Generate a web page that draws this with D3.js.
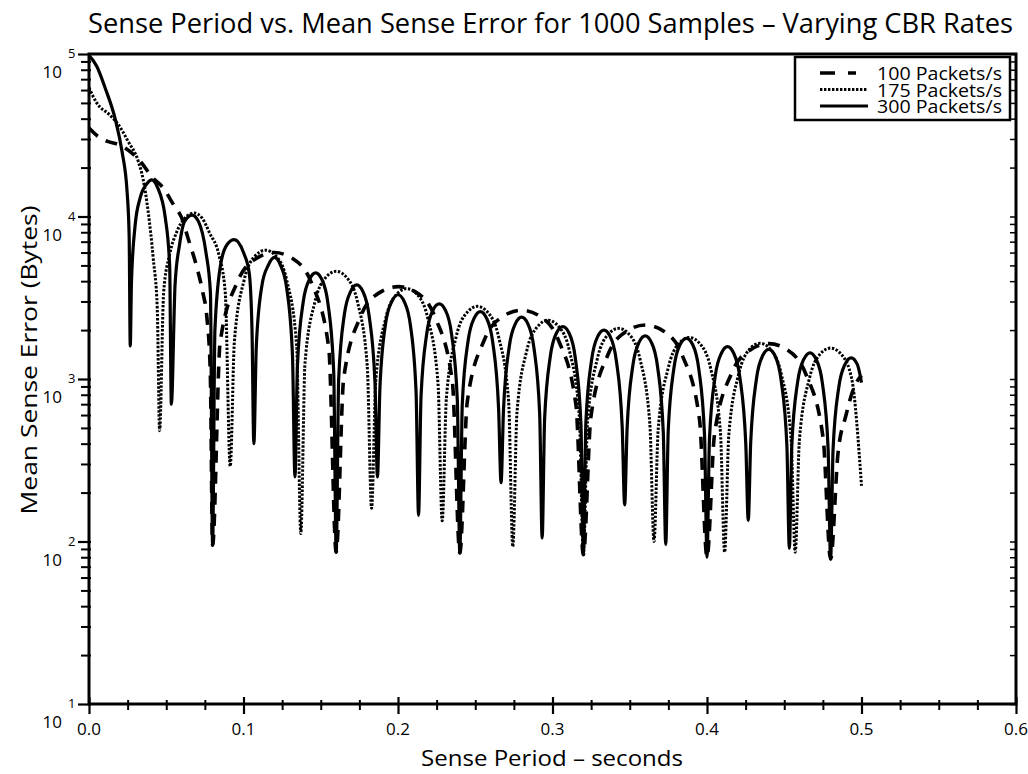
<!DOCTYPE html>
<html>
<head>
<meta charset="utf-8">
<script src="https://cdn.jsdelivr.net/npm/d3@7"></script>
<style>
  body { margin: 0; background: #fff; }
  text { font-family: "Open Sans", sans-serif; fill: #000; }
</style>
</head>
<body>
<svg id="chart" width="1028" height="774"></svg>
<script>
/*
 * Chart data
 */
var TITLE = 'Sense Period vs. Mean Sense Error for 1000 Samples \u2013 Varying CBR Rates',
    X_LABEL = 'Sense Period \u2013 seconds',
    Y_LABEL = 'Mean Sense Error (Bytes)';

var X_MAJOR = [0, 0.1, 0.2, 0.3, 0.4, 0.5, 0.6],
    X_LABELS = ['0.0', '0.1', '0.2', '0.3', '0.4', '0.5', '0.6'],
    Y_DECADES = [1, 2, 3, 4, 5],
    LEGEND_LABELS = ['100 Packets/s', '175 Packets/s', '300 Packets/s'];

// 100 packets/s (dashed)
var cbr100 = [
    [0, 35000], [0.006, 31000], [0.012, 29000], [0.02, 27500], [0.029, 24000], [0.033, 22000],
    [0.041, 17400], [0.048, 15000], [0.055, 11700], [0.06, 9800], [0.064, 7400], [0.0705, 4600],
    [0.0737, 3400], [0.0763, 2400], [0.0785, 1100], [0.08, 95],
    [0.0848, 1650], [0.096, 3950], [0.108, 5500], [0.12, 6000], [0.132, 5500], [0.144, 3900], [0.1552, 1550], [0.16, 86],
    [0.1648, 1000], [0.176, 2450], [0.188, 3400], [0.2, 3700], [0.212, 3400], [0.224, 2400], [0.2352, 960], [0.24, 85],
    [0.2448, 720], [0.256, 1750], [0.268, 2430], [0.28, 2650], [0.292, 2430], [0.304, 1720], [0.3152, 690], [0.32, 83],
    [0.3248, 580], [0.336, 1420], [0.348, 1970], [0.36, 2150], [0.372, 1970], [0.384, 1400], [0.3952, 560], [0.40, 80],
    [0.4048, 450], [0.416, 1090], [0.428, 1510], [0.44, 1650], [0.452, 1510], [0.464, 1070], [0.4752, 430], [0.48, 78],
    [0.4848, 350], [0.49, 600], [0.495, 880], [0.5, 1050]
];

// 175 packets/s (dotted)
var cbr175 = [
    [0, 62000], [0.005, 50000], [0.0136, 42000], [0.0188, 37000], [0.0253, 29000], [0.0318, 22000],
    [0.035, 17000], [0.0383, 10700], [0.0416, 5500], [0.0442, 2700], [0.0457, 480],
    [0.0483, 3400], [0.0521, 5800], [0.0567, 8000], [0.0622, 9800], [0.0681, 10500], [0.0731, 9800],
    [0.0781, 7900], [0.0841, 5800], [0.0882, 3400], [0.0914, 290],
    [0.0941, 1700], [0.1005, 4100], [0.1074, 5700], [0.1143, 6200], [0.1211, 5700], [0.128, 4050], [0.1344, 1600], [0.1371, 112],
    [0.1398, 1250], [0.1463, 3000], [0.1531, 4200], [0.16, 4600], [0.1669, 4200], [0.1737, 3000], [0.1801, 1200], [0.1829, 160],
    [0.1856, 970], [0.192, 2350], [0.1989, 3300], [0.2057, 3600], [0.2126, 3300], [0.2194, 2340], [0.2259, 940], [0.2286, 134],
    [0.2313, 760], [0.2377, 1830], [0.2446, 2560], [0.2514, 2800], [0.2583, 2560], [0.2651, 1820], [0.2716, 730], [0.2743, 93],
    [0.277, 620], [0.2834, 1500], [0.2903, 2100], [0.2971, 2300], [0.304, 2100], [0.3109, 1500], [0.3173, 600], [0.32, 85],
    [0.3227, 550], [0.3291, 1340], [0.336, 1880], [0.3429, 2050], [0.3497, 1880], [0.3566, 1330], [0.363, 530], [0.3657, 100],
    [0.3684, 490], [0.3749, 1170], [0.3817, 1650], [0.3886, 1800], [0.3954, 1650], [0.4023, 1170], [0.4087, 470], [0.4114, 86],
    [0.4141, 450], [0.4206, 1080], [0.4274, 1520], [0.4343, 1660], [0.4411, 1520], [0.448, 1080], [0.4544, 430], [0.4571, 86],
    [0.4598, 420], [0.4663, 1010], [0.4731, 1420], [0.48, 1550], [0.4869, 1420], [0.4937, 1000], [0.5, 220]
];

// 300 packets/s (solid)
var cbr300 = [
    [0, 98000], [0.005, 84000], [0.0104, 62000], [0.0169, 40000], [0.0214, 25000], [0.0247, 14000], [0.026, 7500], [0.0267, 1600],
    [0.0275, 4000], [0.0299, 8900], [0.0331, 13000], [0.0377, 16000], [0.0405, 16800], [0.0445, 15000], [0.0494, 9800], [0.0522, 5000], [0.0533, 700],
    [0.0557, 3800], [0.0586, 6700], [0.0618, 9300], [0.0667, 10200], [0.0709, 9300], [0.0757, 6000], [0.0786, 3400], [0.08, 95],
    [0.0815, 2000], [0.0851, 5000], [0.0893, 6700], [0.094, 7200], [0.1, 6000], [0.1037, 4500], [0.1055, 2000], [0.1067, 400],
    [0.1083, 1600], [0.112, 3800], [0.116, 5000], [0.12, 5600], [0.124, 5000], [0.128, 3600], [0.1317, 1400], [0.1333, 250],
    [0.1349, 1200], [0.1387, 3000], [0.1427, 4100], [0.1467, 4500], [0.1507, 4100], [0.1547, 2900], [0.1584, 1100], [0.16, 86],
    [0.1616, 1000], [0.1653, 2500], [0.1693, 3450], [0.1733, 3800], [0.1773, 3450], [0.1813, 2450], [0.1851, 950], [0.1867, 250],
    [0.1883, 880], [0.192, 2200], [0.196, 3000], [0.2, 3300], [0.204, 3000], [0.208, 2150], [0.2117, 830], [0.2133, 145],
    [0.2149, 780], [0.2186, 1900], [0.2226, 2650], [0.2267, 2900], [0.2307, 2650], [0.2347, 1880], [0.2384, 740], [0.24, 85],
    [0.2416, 700], [0.2453, 1700], [0.2493, 2370], [0.2533, 2600], [0.2573, 2370], [0.2613, 1690], [0.2651, 660], [0.2667, 230],
    [0.2683, 650], [0.272, 1580], [0.276, 2190], [0.28, 2400], [0.284, 2190], [0.288, 1550], [0.2917, 610], [0.2933, 105],
    [0.2949, 570], [0.2986, 1380], [0.3026, 1920], [0.3067, 2100], [0.3107, 1920], [0.3147, 1360], [0.3184, 530], [0.32, 85],
    [0.3216, 540], [0.3253, 1310], [0.3293, 1830], [0.3333, 2000], [0.3373, 1830], [0.3413, 1300], [0.3451, 510], [0.3467, 168],
    [0.3483, 500], [0.352, 1210], [0.356, 1680], [0.36, 1840], [0.364, 1680], [0.368, 1190], [0.3717, 470], [0.3733, 96],
    [0.3749, 480], [0.3786, 1170], [0.3826, 1630], [0.3867, 1780], [0.3907, 1630], [0.3947, 1150], [0.3984, 450], [0.40, 80],
    [0.4016, 430], [0.4053, 1040], [0.4093, 1440], [0.4133, 1580], [0.4173, 1440], [0.4213, 1020], [0.4251, 400], [0.4267, 135],
    [0.4283, 410], [0.432, 1000], [0.436, 1390], [0.44, 1520], [0.444, 1390], [0.448, 980], [0.4517, 390], [0.4533, 91],
    [0.4549, 390], [0.4586, 950], [0.4626, 1320], [0.4667, 1450], [0.4707, 1320], [0.4747, 940], [0.4784, 370], [0.48, 78],
    [0.4816, 370], [0.4853, 890], [0.4893, 1230], [0.4933, 1350], [0.4973, 1230], [0.5, 950]
];

/*
 * Layout
 */
var LEFT = 89, RIGHT = 1016, TOP = 54, BOTTOM = 704;

var svg = d3.select('#chart');

var x = d3.scaleLinear().domain([0, 0.6]).range([LEFT, RIGHT]);
var y = d3.scaleLog().domain([10, 1e5]).range([BOTTOM, TOP]);

// title
svg.append('text')
    .attr('x', 88).attr('y', 33)
    .attr('font-size', 27)
    .attr('textLength', 925).attr('lengthAdjust', 'spacingAndGlyphs')
    .text(TITLE);

// axis titles
svg.append('text')
    .attr('x', 552).attr('y', 766)
    .attr('text-anchor', 'middle')
    .attr('font-size', 22)
    .attr('textLength', 262).attr('lengthAdjust', 'spacingAndGlyphs')
    .text(X_LABEL);

svg.append('text')
    .attr('transform', 'translate(37,360) rotate(-90)')
    .attr('text-anchor', 'middle')
    .attr('font-size', 22)
    .attr('textLength', 309).attr('lengthAdjust', 'spacingAndGlyphs')
    .text(Y_LABEL);

/*
 * Ticks
 */
var xMinor = d3.range(0, 25).map(function (i) { return i * 0.025; })
    .filter(function (v) { return Math.abs(v * 10 - Math.round(v * 10)) > 1e-6; });

svg.append('g')
    .attr('transform', 'translate(0,' + (BOTTOM - 4) + ')')
    .call(d3.axisBottom(x).tickValues(xMinor).tickSize(10).tickFormat(''))
    .call(function (g) { g.select('.domain').remove(); })
    .selectAll('line').attr('stroke-width', 2);

svg.append('g')
    .attr('transform', 'translate(0,' + (BOTTOM - 7) + ')')
    .call(d3.axisBottom(x).tickValues(X_MAJOR).tickSize(17).tickFormat(''))
    .call(function (g) { g.select('.domain').remove(); })
    .selectAll('line').attr('stroke-width', 2.2);

svg.selectAll('.xlab')
    .data(X_MAJOR)
    .enter().append('text')
    .attr('class', 'xlab')
    .attr('x', function (d) { return x(d); })
    .attr('y', 735)
    .attr('text-anchor', 'middle')
    .attr('font-size', 17)
    .text(function (d, i) { return X_LABELS[i]; });

var yMinor = [];
Y_DECADES.slice(0, -1).forEach(function (e) {
    for (var m = 2; m <= 9; m++) yMinor.push(m * Math.pow(10, e));
});
var yMajor = Y_DECADES.map(function (e) { return Math.pow(10, e); });

svg.append('g')
    .attr('transform', 'translate(' + (LEFT + 2) + ',0)')
    .call(d3.axisLeft(y).tickValues(yMinor).tickSize(10).tickFormat(''))
    .call(function (g) { g.select('.domain').remove(); })
    .selectAll('line').attr('stroke-width', 2);

svg.append('g')
    .attr('transform', 'translate(' + (LEFT + 2) + ',0)')
    .call(d3.axisLeft(y).tickValues(yMajor).tickSize(13).tickFormat(''))
    .call(function (g) { g.select('.domain').remove(); })
    .selectAll('line').attr('stroke-width', 2.2);

// mirrored ticks inside the right border
svg.append('g')
    .attr('transform', 'translate(' + RIGHT + ',0)')
    .call(d3.axisLeft(y).tickValues(yMinor.concat(yMajor)).tickSize(6).tickFormat(''))
    .call(function (g) { g.select('.domain').remove(); })
    .selectAll('line').attr('stroke-width', 1.5);

var ylab = svg.selectAll('.ylab')
    .data(Y_DECADES)
    .enter().append('g')
    .attr('class', 'ylab')
    .attr('transform', function (d) { return 'translate(0,' + y(Math.pow(10, d)) + ')'; });

ylab.append('text')
    .attr('x', 62).attr('y', 24)
    .attr('text-anchor', 'end')
    .attr('font-size', 17)
    .text('10');

ylab.append('text')
    .attr('x', 68).attr('y', 4)
    .attr('font-size', 13)
    .text(function (d) { return d; });

/*
 * Series
 */
var line = d3.line()
    .x(function (d) { return x(d[0]); })
    .y(function (d) { return y(d[1]); })
    .curve(d3.curveMonotoneX);

var SERIES = [
    { data: cbr175, width: 3, dash: '2.4,1.6' },
    { data: cbr100, width: 3.6, dash: '12,9' },
    { data: cbr300, width: 3.2, dash: null }
];

svg.selectAll('.series')
    .data(SERIES)
    .enter().append('path')
    .attr('class', 'series')
    .attr('d', function (d) { return line(d.data); })
    .attr('fill', 'none')
    .attr('stroke', '#000')
    .attr('stroke-width', function (d) { return d.width; })
    .attr('stroke-dasharray', function (d) { return d.dash; })
    .attr('stroke-linejoin', 'round');

// frame
svg.append('rect')
    .attr('x', LEFT).attr('y', TOP)
    .attr('width', RIGHT - LEFT).attr('height', BOTTOM - TOP)
    .attr('fill', 'none')
    .attr('stroke', '#000')
    .attr('stroke-width', 3);

/*
 * Legend
 */
var legend = svg.append('g');

legend.append('rect')
    .attr('x', 795).attr('y', 57)
    .attr('width', 215).attr('height', 63)
    .attr('fill', '#fff')
    .attr('stroke', '#000')
    .attr('stroke-width', 2.5);

var LEGEND_STYLE = [
    { width: 3.6, dash: '15,13', end: 856 },
    { width: 3, dash: '2.4,1.6', end: 868 },
    { width: 3.2, dash: null, end: 868 }
];

var rows = legend.selectAll('.row')
    .data(LEGEND_LABELS)
    .enter().append('g')
    .attr('class', 'row')
    .attr('transform', function (d, i) { return 'translate(0,' + (73 + i * 16.5) + ')'; });

rows.append('line')
    .attr('x1', 820)
    .attr('x2', function (d, i) { return LEGEND_STYLE[i].end; })
    .attr('stroke', '#000')
    .attr('stroke-width', function (d, i) { return LEGEND_STYLE[i].width; })
    .attr('stroke-dasharray', function (d, i) { return LEGEND_STYLE[i].dash; });

rows.append('text')
    .attr('x', 877).attr('y', 7)
    .attr('font-size', 19)
    .attr('textLength', 125).attr('lengthAdjust', 'spacingAndGlyphs')
    .text(function (d) { return d; });
</script>
</body>
</html>
